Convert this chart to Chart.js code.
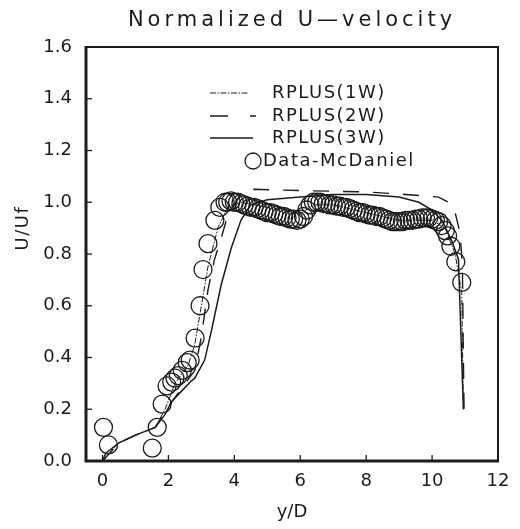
<!DOCTYPE html>
<html><head><meta charset="utf-8">
<script src="https://cdn.jsdelivr.net/npm/chart.js@4"></script>
<style>html,body{margin:0;padding:0;background:#fff}#wrap{width:520px;height:529px;position:relative}</style>
</head><body><div id="wrap"><canvas id="c"></canvas></div>
<script>
const titleText = 'Normalized U\u2014velocity';
const xTitle = 'y/D';
const yTitle = 'U/Uf';
const xTicks = [0, 2, 4, 6, 8, 10, 12];
const yTicks = [0, 0.2, 0.4, 0.6, 0.8, 1.0, 1.2, 1.4, 1.6];
const legendLabels = ['RPLUS(1W)', 'RPLUS(2W)', 'RPLUS(3W)', 'Data-McDaniel'];

const dataX = [0.03,0.18,1.51,1.66,1.81,1.96,2.1,2.2,2.3,2.42,2.57,2.66,2.81,2.96,3.05,3.2,3.41,3.56,3.72,
 3.8,3.9,4.0,4.1,4.2,4.3,4.4,4.5,4.6,4.7,4.8,4.9,5.0,5.1,5.2,5.3,5.4,5.5,5.6,5.7,5.8,5.9,6.0,6.1,6.2,6.3,6.4,6.5,6.6,6.7,6.8,6.9,
 7.0,7.1,7.2,7.3,7.4,7.5,7.6,7.7,7.8,7.9,8.0,8.1,8.2,8.3,8.4,8.5,8.6,8.7,8.8,8.9,9.0,9.1,9.2,9.3,9.4,9.5,9.6,9.7,9.8,9.9,
 10.0,10.1,10.2,10.3,10.4,10.47,10.57,10.72,10.9];
const dataY = [0.13,0.062,0.05,0.13,0.22,0.29,0.305,0.32,0.33,0.35,0.38,0.39,0.475,0.60,0.74,0.84,0.93,0.98,1.0,
 1.0,1.005,1.0,1.0,0.995,0.99,0.985,0.98,0.98,0.975,0.97,0.965,0.96,0.96,0.955,0.95,0.945,0.945,0.94,0.935,0.935,0.93,0.935,0.945,0.97,0.99,1.0,1.0,1.0,0.995,0.995,0.99,
 0.99,0.985,0.985,0.98,0.98,0.975,0.97,0.965,0.96,0.96,0.955,0.95,0.95,0.945,0.945,0.94,0.935,0.93,0.925,0.925,0.925,0.925,0.93,0.93,0.93,0.935,0.935,0.94,0.94,0.94,
 0.935,0.93,0.925,0.91,0.89,0.87,0.83,0.77,0.69];

const w1X = [0,0.5,1.0,1.6,1.9,2.2,2.6,2.8,3.0,3.2,3.5,3.8,4.2,5.0,6.0,6.4,7.0,8.0,9.0,10.0,10.4,10.7,10.9,10.95];
const w1Y = [0,0.07,0.1,0.13,0.2,0.3,0.37,0.45,0.6,0.75,0.9,0.98,1.0,0.98,0.955,0.99,0.99,0.96,0.93,0.93,0.9,0.8,0.65,0.2];

const w2X = [0,0.5,1.0,1.6,2.0,2.4,2.8,3.0,3.2,3.4,3.6,3.8,4.2,4.6,6.0,8.0,9.2,10.2,10.5,10.7,10.85,10.92,10.95,10.97];
const w2Y = [0,0.07,0.1,0.13,0.21,0.28,0.35,0.48,0.66,0.78,0.86,0.95,1.03,1.05,1.045,1.04,1.03,1.02,1.0,0.96,0.88,0.75,0.4,0.2];

const w3X = [0,0.1,0.5,1.0,1.6,1.9,2.1,2.4,2.7,2.8,3.1,3.3,3.6,3.9,4.2,4.5,5.0,6.0,7.0,8.0,9.0,9.6,10.0,10.3,10.6,10.8,10.95];
const w3Y = [0,0.03,0.07,0.1,0.13,0.18,0.23,0.27,0.31,0.32,0.39,0.5,0.68,0.82,0.93,0.99,1.01,1.02,1.03,1.03,1.02,1.0,0.97,0.93,0.85,0.78,0.2];

const pts = (xs, ys) => xs.map((x, i) => ({x: x, y: ys[i]}));
const FONT = '"DejaVu Sans", sans-serif';
const INK = '#1c1c1c';

const framePlugin = {
  id: 'frame',
  afterDatasetsDraw(chart) {
    const {ctx, chartArea: a, scales} = chart;
    ctx.save();
    ctx.strokeStyle = INK;
    ctx.lineCap = 'butt';
    // inward tick marks
    ctx.lineWidth = 1.3;
    yTicks.forEach(v => {
      const y = scales.y.getPixelForValue(v);
      ctx.beginPath(); ctx.moveTo(a.left, y); ctx.lineTo(a.left + 6, y); ctx.stroke();
    });
    xTicks.forEach(v => {
      const x = scales.x.getPixelForValue(v);
      ctx.beginPath(); ctx.moveTo(x, a.bottom); ctx.lineTo(x, a.bottom - 6); ctx.stroke();
    });
    // frame
    ctx.lineWidth = 2;
    ctx.beginPath(); ctx.moveTo(a.left, a.top); ctx.lineTo(a.right, a.top); ctx.lineTo(a.right, a.bottom); ctx.stroke();
    ctx.lineWidth = 3;
    ctx.beginPath(); ctx.moveTo(a.left, a.top - 1); ctx.lineTo(a.left, a.bottom); ctx.lineTo(a.right + 1, a.bottom); ctx.stroke();
    ctx.restore();
  },
  afterDraw(chart) {
    const {ctx} = chart;
    ctx.save();
    ctx.fillStyle = INK;
    ctx.strokeStyle = INK;
    // title
    ctx.font = '21px ' + FONT;
    ctx.textAlign = 'center';
    ctx.textBaseline = 'middle';
    ctx.letterSpacing = '4px';
    ctx.fillText(titleText, 292, 21);
    // y title
    ctx.save();
    ctx.font = '18px ' + FONT;
    ctx.letterSpacing = '1.5px';
    ctx.translate(23, 228);
    ctx.rotate(-Math.PI / 2);
    ctx.fillText(yTitle, 0, 0);
    ctx.restore();
    // legend
    ctx.font = '18px ' + FONT;
    ctx.letterSpacing = '1.5px';
    ctx.textAlign = 'left';
    const rows = [93, 116, 138, 161];
    ctx.lineWidth = 1;
    ctx.setLineDash([6, 1.5, 1.5, 1.5]);
    ctx.beginPath(); ctx.moveTo(210, rows[0]); ctx.lineTo(248, rows[0]); ctx.stroke();
    ctx.lineWidth = 1.4;
    ctx.setLineDash([18, 22]);
    ctx.beginPath(); ctx.moveTo(210, rows[1]); ctx.lineTo(256, rows[1]); ctx.stroke();
    ctx.setLineDash([]);
    ctx.beginPath(); ctx.moveTo(210, rows[2]); ctx.lineTo(253, rows[2]); ctx.stroke();
    ctx.lineWidth = 1.3;
    ctx.beginPath(); ctx.arc(253, rows[3], 8, 0, Math.PI * 2); ctx.stroke();
    ctx.fillText(legendLabels[0], 272, rows[0]);
    ctx.fillText(legendLabels[1], 272, rows[1]);
    ctx.fillText(legendLabels[2], 272, rows[2]);
    ctx.fillText(legendLabels[3], 263, rows[3]);
    ctx.restore();
  }
};

new Chart(document.getElementById('c'), {
  type: 'scatter',
  data: {
    datasets: [
      {label: legendLabels[3], data: pts(dataX, dataY), showLine: false, pointStyle: 'circle',
       pointRadius: 9, pointBorderWidth: 1.3, pointBorderColor: INK, pointBackgroundColor: 'rgba(0,0,0,0)'},
      {label: legendLabels[0], data: pts(w1X, w1Y), showLine: true, pointRadius: 0, borderColor: INK,
       borderWidth: 1, borderDash: [6, 1.5, 1.5, 1.5], fill: false},
      {label: legendLabels[1], data: pts(w2X, w2Y), showLine: true, pointRadius: 0, borderColor: INK,
       borderWidth: 1.4, borderDash: [16, 14], fill: false},
      {label: legendLabels[2], data: pts(w3X, w3Y), showLine: true, pointRadius: 0, borderColor: INK,
       borderWidth: 1.5, fill: false}
    ]
  },
  options: {
    responsive: true,
    maintainAspectRatio: false,
    animation: false,
    devicePixelRatio: 1,
    layout: {padding: {left: 0, right: 22, top: 47, bottom: 0}},
    plugins: {legend: {display: false}, tooltip: {enabled: false}, title: {display: false}},
    scales: {
      x: {
        type: 'linear', min: -0.5, max: 12,
        afterBuildTicks: s => { s.ticks = xTicks.map(v => ({value: v})); },
        afterFit: s => { s.height = 68; },
        grid: {display: false, drawTicks: false},
        border: {display: false},
        ticks: {color: INK, font: {family: FONT, size: 18}, padding: 10, callback: v => String(v), maxRotation: 0},
        title: {display: true, text: xTitle, color: INK, font: {family: FONT, size: 18}, padding: {top: 0, bottom: 6}}
      },
      y: {
        type: 'linear', min: 0, max: 1.6,
        afterBuildTicks: s => { s.ticks = yTicks.map(v => ({value: v})); },
        afterFit: s => { s.width = 86; },
        grid: {display: false, drawTicks: false},
        border: {display: false},
        ticks: {color: INK, font: {family: FONT, size: 18}, padding: 14, callback: v => v.toFixed(1)}
      }
    }
  },
  plugins: [framePlugin]
});
</script>
</body></html>
